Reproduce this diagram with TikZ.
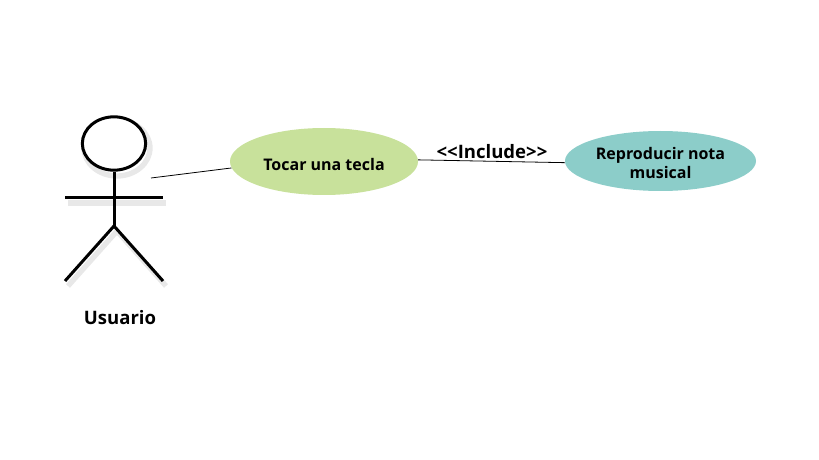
\documentclass[tikz,border=0pt]{standalone}
\usepackage{fontspec}
\usepackage{xcolor}
\setmainfont{Open Sans}
\usetikzlibrary{shapes,positioning,calc}
\definecolor{tecla}{HTML}{C8E19B}
\definecolor{nota}{HTML}{8CCDC9}

\begin{document}
\begin{tikzpicture}[
    x=0.75pt, y=-0.75pt,
    caso/.style={ellipse, inner sep=0pt, align=center, font=\bfseries\fontsize{12pt}{14.25pt}\selectfont, text=black},
    etiqueta/.style={inner sep=0pt, font=\bfseries\fontsize{13.9pt}{16pt}\selectfont},
    palo/.style={line width=2.25pt, draw=black},
    sombra/.style={line width=4pt, draw=black!9, shift={(3,5)}},
    enlace/.style={line width=0.6pt, draw=black}
]
    \useasboundingbox (0,0) rectangle (819,460);

    % sombra del actor
    \draw [sombra] (114,143) ellipse [x radius=33, y radius=28];
    \draw [sombra] (65,198) -- (163,198);
    \draw [sombra] (65,281) -- (114,226) -- (163,281);

    \node [caso, fill=tecla, minimum width=141pt, minimum height=50.25pt, text height=14pt, text depth=0pt] (tocar) at (324,161.5) {Tocar una tecla};
    \node [caso, fill=nota, minimum width=143.25pt, minimum height=45pt, text height=27pt, text depth=0pt] (reproducir) at (660.5,161) {Reproducir nota\\musical};
    \node [ellipse, palo, fill=white, inner sep=0pt, minimum width=47.5pt, minimum height=40pt] (cabeza) at (114,143.5) {};
    \coordinate (cadera) at (114,226);
    \coordinate (hombroI) at (65,198);
    \coordinate (hombroD) at (163,198);
    \coordinate (pieI) at (65,281);
    \coordinate (pieD) at (163,281);
    \coordinate (brazo) at (151,178);
    \node [etiqueta] (usuario) at (120,318) {Usuario};
    \node [etiqueta] (include) at (492,152) {<{}<Include>{}>};

    \draw [palo] (cabeza) -- (cadera);
    \draw [palo] (hombroI) -- (hombroD);
    \draw [palo] (pieI) -- (cadera) -- (pieD);

    \draw [enlace] (brazo) -- (tocar.184);
    \draw [enlace] (tocar.1) -- (reproducir.181);
\end{tikzpicture}
\end{document}
